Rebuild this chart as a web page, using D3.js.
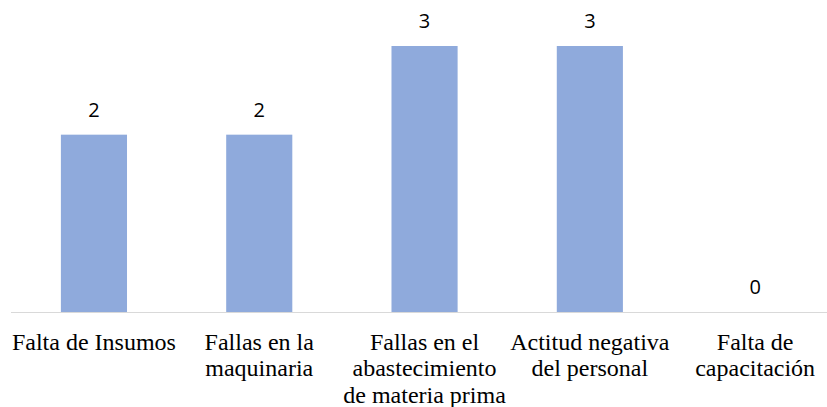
<!DOCTYPE html>
<html>
<head>
<meta charset="utf-8">
<script src="https://cdn.jsdelivr.net/npm/d3@7"></script>
<style>
  body { margin: 0; background: #fff; }
  svg { display: block; }
  .val { font-family: 'Open Sans', 'Noto Sans', sans-serif; font-size: 20px; }
  .cat { font-family: 'Liberation Serif', 'Times New Roman', serif; font-size: 24px; }
</style>
</head>
<body>
<svg width="827" height="407"></svg>
<script>
  // data
  const categories = [
    'Falta de Insumos',
    'Fallas en la\nmaquinaria',
    'Fallas en el\nabastecimiento\nde materia prima',
    'Actitud negativa\ndel personal',
    'Falta de\ncapacitación'
  ];
  const values = [2, 2, 3, 3, 0];

  const svg = d3.select('svg');

  const baseY = 312;

  const x = d3.scaleBand()
    .domain(categories)
    .range([11.3, 837.8])
    .paddingInner(0.6)
    .paddingOuter(0.3);

  const y = d3.scaleLinear()
    .domain([0, 3])
    .range([baseY, 46]);

  const rows = categories.map((c, i) => ({ cat: c, val: values[i] }));

  // bars
  svg.append('g').selectAll('rect')
    .data(rows)
    .enter().append('rect')
    .attr('x', d => x(d.cat))
    .attr('y', d => y(d.val))
    .attr('width', x.bandwidth())
    .attr('height', d => y(0) - y(d.val))
    .attr('fill', '#8faadc');

  // baseline
  svg.append('line')
    .attr('x1', 11).attr('x2', 827)
    .attr('y1', y(0) + 0.5).attr('y2', y(0) + 0.5)
    .attr('stroke', '#d9d9d9')
    .attr('stroke-width', 1.2);

  // value labels
  svg.append('g').selectAll('text')
    .data(rows)
    .enter().append('text')
    .attr('class', 'val')
    .attr('x', d => x(d.cat) + x.bandwidth() / 2)
    .attr('y', d => y(d.val) - 18)
    .attr('text-anchor', 'middle')
    .attr('fill', '#000')
    .text(d => d.val);

  // category labels
  const lab = svg.append('g').selectAll('text')
    .data(rows)
    .enter().append('text')
    .attr('class', 'cat')
    .attr('x', d => x(d.cat) + x.bandwidth() / 2)
    .attr('y', 349.5)
    .attr('text-anchor', 'middle')
    .attr('fill', '#000');

  lab.selectAll('tspan')
    .data(d => d.cat.split('\n').map(t => ({ t, x: x(d.cat) + x.bandwidth() / 2 })))
    .enter().append('tspan')
    .attr('x', d => d.x)
    .attr('dy', (d, i) => i === 0 ? 0 : 26.5)
    .text(d => d.t);
</script>
</body>
</html>
